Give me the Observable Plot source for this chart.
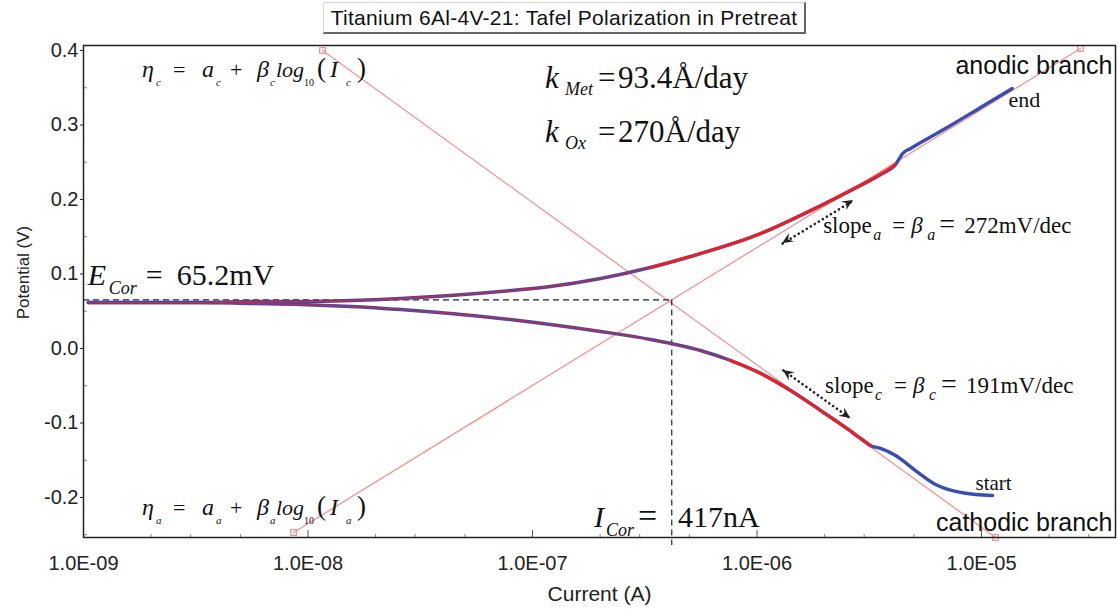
<!DOCTYPE html>
<html>
<head>
<meta charset="utf-8">
<script src="https://cdn.jsdelivr.net/npm/d3@7"></script>
<script src="https://cdn.jsdelivr.net/npm/@observablehq/plot@0.6"></script>
<style>
  body { margin: 0; background: #fff; font-family: "Liberation Sans", Arial, sans-serif; }
  #title { position: relative; width: 1118px; height: 38px; }
  #title .box {
    position: absolute; left: 323px; top: 2px; width: 480px; height: 29px;
    border: 1px solid #d6d6d6; border-right: 2px solid #666; border-bottom: 2px solid #666;
    font-size: 21px; letter-spacing: 0.3px; line-height: 29px; text-align: center; color: #111;
  }
  #chart svg { display: block; }
</style>
</head>
<body>
<div id="title"><div class="box">Titanium 6Al-4V-21: Tafel Polarization in Pretreat</div></div>
<div id="chart"></div>
<script>
// ---------------- data ----------------
const currentTicks = [1e-9, 1e-8, 1e-7, 1e-6, 1e-5];
const minorCurrentTicks = [2e-9, 3e-9, 5e-9, 2e-8, 3e-8, 5e-8, 2e-7, 3e-7, 5e-7, 2e-6, 3e-6, 5e-6, 2e-5, 3e-5];
const potentialTicks = [-0.2, -0.1, 0.0, 0.1, 0.2, 0.3, 0.4];
const minorPotentialTicks = [-0.25, -0.15, -0.05, 0.05, 0.15, 0.25, 0.35];

// measured curve: anodic branch (from E_corr to "end")
const anodicCurrent = [1.05e-9, 1.99e-9, 3.32e-9, 5.54e-9, 9.26e-9, 1.55e-8, 2.58e-8, 4.31e-8, 7.20e-8, 1.20e-7, 2.01e-7, 3.35e-7, 5.60e-7, 1.04e-6, 1.56e-6, 2.61e-6, 3.55e-6, 4.14e-6, 4.45e-6, 4.83e-6, 7.28e-6, 9.90e-6, 1.37e-5];
const anodicPotential = [0.0617, 0.0617, 0.0617, 0.0631, 0.0631, 0.0644, 0.0671, 0.0711, 0.0765, 0.0832, 0.0940, 0.1087, 0.1275, 0.1544, 0.1785, 0.2121, 0.2336, 0.2470, 0.2617, 0.2685, 0.2993, 0.3235, 0.3490];

// measured curve: cathodic branch (from E_corr to "start")
const cathodicCurrent = [1.05e-9, 1.99e-9, 3.32e-9, 5.54e-9, 9.26e-9, 1.55e-8, 2.58e-8, 4.31e-8, 7.20e-8, 1.20e-7, 2.01e-7, 3.35e-7, 5.60e-7, 7.62e-7, 1.04e-6, 1.41e-6, 1.92e-6, 2.48e-6, 2.98e-6, 3.20e-6, 3.55e-6, 4.14e-6, 5.08e-6, 6.24e-6, 7.66e-6, 9.40e-6, 1.12e-5];
const cathodicPotential = [0.0617, 0.0617, 0.0617, 0.0604, 0.0591, 0.0564, 0.0523, 0.0470, 0.0403, 0.0322, 0.0228, 0.0121, -0.0027, -0.0161, -0.0336, -0.0564, -0.0832, -0.1060, -0.1235, -0.1302, -0.1342, -0.1436, -0.1638, -0.1826, -0.1919, -0.1960, -0.1973];

// Tafel fit lines (end points)
const anodicTafelCurrent = [8.62e-9, 2.76e-5];
const anodicTafelPotential = [-0.247, 0.4027];
const cathodicTafelCurrent = [1.16e-8, 1.153e-5];
const cathodicTafelPotential = [0.400, -0.2537];

// fit windows (current range drawn bold red)
const anodicFitWindow = [3.35e-7, 4.14e-6];
const cathodicFitWindow = [7.62e-7, 3.20e-6];

// slope indicator arrows
const anodicArrowCurrent = [1.30e-6, 2.69e-6];
const anodicArrowPotential = [0.1409, 0.1987];
const cathodicArrowCurrent = [1.31e-6, 2.61e-6];
const cathodicArrowPotential = [-0.0295, -0.0940];

const eCorr = 0.0652;      // V
const iCorr = 4.17e-7;     // A
const kMetText = "93.4Å/day";
const kOxText = "270Å/day";
const eCorrText = "65.2mV";
const iCorrText = "417nA";
const slopeAText = "272mV/dec";
const slopeCText = "191mV/dec";

// ---------------- chart ----------------
const xDomain = [1e-9, 3.95e-5];
const yDomain = [-0.2537, 0.4067];
const yBelow = -0.2645;

const blue = "#3a4db3", red = "#e3222b", pink = "#f29494";
const serif = '"Liberation Serif", "Times New Roman", serif';

const fmtE = d => {
  const e = Math.round(Math.log10(d));
  return "1.0E" + (e < 0 ? "-" : "+") + String(Math.abs(e)).padStart(2, "0");
};
const toRows = (I, E) => I.map((c, i) => ({I: c, E: E[i]}));
const anodic = toRows(anodicCurrent, anodicPotential);
const cathodic = toRows(cathodicCurrent, cathodicPotential);
const anodicTafel = toRows(anodicTafelCurrent, anodicTafelPotential);
const cathodicTafel = toRows(cathodicTafelCurrent, cathodicTafelPotential);
const inRange = (rows, lo, hi) => rows.filter(r => r.I >= lo && r.I <= hi);
const arrows = [
  {x1: anodicArrowCurrent[0], y1: anodicArrowPotential[0], x2: anodicArrowCurrent[1], y2: anodicArrowPotential[1]},
  {x1: cathodicArrowCurrent[0], y1: cathodicArrowPotential[0], x2: cathodicArrowCurrent[1], y2: cathodicArrowPotential[1]}
];

const plot = Plot.plot({
  width: 1118, height: 575,
  marginTop: 7, marginBottom: 76, marginLeft: 83, marginRight: 3,
  style: {fontFamily: '"Liberation Sans", Arial, sans-serif', fontSize: "20px", color: "#222", background: "#fff", overflow: "visible"},
  x: {type: "log", domain: xDomain, ticks: currentTicks, tickFormat: fmtE, tickSize: 0, tickPadding: 18, label: null},
  y: {domain: yDomain, ticks: potentialTicks, tickFormat: d => d.toFixed(1), tickSize: 3, tickPadding: 2, label: null},
  marks: [
    Plot.ruleX(minorCurrentTicks, {x: d => d, insetTop: 489, stroke: "#888"}),
    Plot.ruleX(currentTicks, {x: d => d, insetTop: 485, stroke: "#555"}),
    Plot.ruleY(minorPotentialTicks, {y: d => d, insetRight: 1028, stroke: "#888"}),
    // Tafel lines
    Plot.line(anodicTafel, {x: "I", y: "E", stroke: pink, strokeWidth: 1.3}),
    Plot.line(cathodicTafel, {x: "I", y: "E", stroke: pink, strokeWidth: 1.3}),
    Plot.dot([...anodicTafel, ...cathodicTafel], {x: "I", y: "E", symbol: "square", r: 3.2, stroke: pink, fill: "none", strokeWidth: 1.3}),
    // corrosion point guides
    Plot.ruleY([eCorr], {y: d => d, x1: xDomain[0], x2: iCorr, stroke: "#222", strokeDasharray: "6,4", strokeWidth: 1.2}),
    Plot.ruleX([iCorr], {x: d => d, y1: eCorr, y2: yBelow, stroke: "#222", strokeDasharray: "6,4", strokeWidth: 1.2}),
    // measured data
    Plot.line(cathodic, {x: "I", y: "E", stroke: blue, strokeWidth: 3.4, curve: "monotone-x"}),
    Plot.line(anodic, {x: "I", y: "E", stroke: blue, strokeWidth: 3.4, curve: "monotone-x"}),
    Plot.line(inRange(cathodic, 0, cathodicFitWindow[1]), {x: "I", y: "E", stroke: red, strokeWidth: 1.3, strokeOpacity: 0.85, curve: "monotone-x"}),
    Plot.line(inRange(anodic, 0, anodicFitWindow[1]), {x: "I", y: "E", stroke: red, strokeWidth: 1.3, strokeOpacity: 0.85, curve: "monotone-x"}),
    Plot.line(inRange(cathodic, cathodicFitWindow[0], cathodicFitWindow[1]), {x: "I", y: "E", stroke: red, strokeWidth: 3.2, curve: "monotone-x"}),
    Plot.line(inRange(anodic, anodicFitWindow[0], anodicFitWindow[1]), {x: "I", y: "E", stroke: red, strokeWidth: 3.2, curve: "monotone-x"}),
    // dotted slope arrows (shafts)
    Plot.link(arrows, {x1: "x1", y1: "y1", x2: "x2", y2: "y2", stroke: "#222", strokeWidth: 2.6, strokeDasharray: "0.1,4.6", strokeLinecap: "round"}),
    // axis titles
    Plot.text(["Current (A)"], {text: d => d, frameAnchor: "bottom", dy: 63, fontSize: 21, fill: "#222"}),
    Plot.text(["Potential (V)"], {text: d => d, frameAnchor: "left", textAnchor: "middle", rotate: -90, dx: -60, dy: -19, fontSize: 17, fill: "#222"}),
    // branch labels
    Plot.text(["anodic branch"], {text: d => d, x: () => 3.83e-5, y: () => 0.3691, textAnchor: "end", lineAnchor: "bottom", fontSize: 25, fill: "#111"}),
    Plot.text(["cathodic branch"], {text: d => d, x: () => 3.83e-5, y: () => -0.2456, textAnchor: "end", lineAnchor: "bottom", fontSize: 25, fill: "#111"}),
    Plot.text(["end"], {text: d => d, x: () => 1.319e-5, y: () => 0.3235, textAnchor: "start", lineAnchor: "bottom", fontSize: 22, fontFamily: serif, fill: "#111"}),
    Plot.text(["start"], {text: d => d, x: () => 9.40e-6, y: () => -0.1906, textAnchor: "start", lineAnchor: "bottom", fontSize: 21, fontFamily: serif, fill: "#111"}),
    Plot.frame({stroke: "#222", strokeWidth: 1.5})
  ]
});
document.getElementById("chart").append(plot);

// ---------------- math annotations (positioned through the plot's scales) ----------------
const svgEl = plot.tagName.toLowerCase() === "svg" ? plot : plot.querySelector("svg");
let sx = v => d3.scaleLog().domain(xDomain).range([83, 1115])(v);
let sy = v => d3.scaleLinear().domain(yDomain).range([499, 7])(v);
try {
  const xs = plot.scale("x"), ys = plot.scale("y");
  if (xs && xs.apply && ys && ys.apply) { sx = v => xs.apply(v); sy = v => ys.apply(v); }
} catch (e) {}

const root = d3.select(svgEl).append("g")
  .attr("font-family", serif).attr("fill", "#111").attr("text-anchor", "start");
function mathText(I, E, frags) {
  const X = sx(I), Y = sy(E);
  const t = root.append("text").attr("text-anchor", "start");
  for (const [s, dx, dy, size, it] of frags) {
    t.append("tspan").attr("x", X + dx).attr("y", Y + dy).attr("text-anchor", "start")
      .attr("font-size", size).attr("font-style", it ? "italic" : "normal").text(s);
  }
}
const etaLayout = sub => [
  ["η", 0, 0, 24, true], [sub, 14, 9, 11, true], ["=", 31, 0, 22, false],
  ["a", 60, 0, 24, true], [sub, 74, 9, 11, true], ["+", 88, 0, 22, false],
  ["β", 115, 0, 24, true], [sub, 128, 9, 11, true], ["log", 134, 0, 22, true],
  ["10", 162, 9, 10, false], ["(", 175, 0, 27, false], ["I", 188, 0, 24, true],
  [sub, 204, 9, 11, true], [")", 215, 0, 27, false]
];
const kLayout = (sub, val) => [["k", 0, 0, 31, true], [sub, 20, 7, 18, true], ["=", 53, 0, 31, false], [val, 73, 0, 31, false]];
const slopeLayout = (sub, val) => [
  ["slope", 0, 0, 23, false], [sub, 50, 7, 16, true], ["=", 69, 0, 23, false],
  ["β", 88, 0, 23, true], [sub, 104, 7, 16, true], ["=", 116, 0, 28, false], [val, 141, 0, 23, false]
];

mathText(1.83e-9, 0.3638, etaLayout("c"));
mathText(1.83e-9, -0.2242, etaLayout("a"));
mathText(1.143e-7, 0.3490, kLayout("Met", kMetText));
mathText(1.143e-7, 0.2765, kLayout("Ox", kOxText));
mathText(1.05e-9, 0.0846, [["E", 0, 0, 30, true], ["Cor", 21, 9, 18, true], ["=", 58, 0, 30, false], [eCorrText, 89, 0, 30, false]]);
mathText(1.89e-7, -0.2403, [["I", 0, 0, 30, true], ["Cor", 12, 9, 18, true], ["=", 44, 0, 34, false], [iCorrText, 84, 0, 30, false]]);
mathText(1.98e-6, 0.1544, slopeLayout("a", slopeAText));
mathText(2.02e-6, -0.0604, slopeLayout("c", slopeCText));

// arrow heads at both ends of the dotted slope indicators
const heads = root.append("g").attr("fill", "#222");
for (const a of arrows) {
  const P = [sx(a.x1), sy(a.y1)], Q = [sx(a.x2), sy(a.y2)];
  for (const [tip, from] of [[Q, P], [P, Q]]) {
    const ang = Math.atan2(tip[1] - from[1], tip[0] - from[0]);
    const c = Math.cos(ang), s = Math.sin(ang);
    const L = 11, W = 5, N = 7;
    const bx = tip[0] - L * c, by = tip[1] - L * s;
    const nx = tip[0] - N * c, ny = tip[1] - N * s;
    heads.append("path").attr("d",
      `M${tip[0]},${tip[1]}L${bx - W * s},${by + W * c}L${nx},${ny}L${bx + W * s},${by - W * c}Z`);
  }
}
</script>
</body>
</html>
